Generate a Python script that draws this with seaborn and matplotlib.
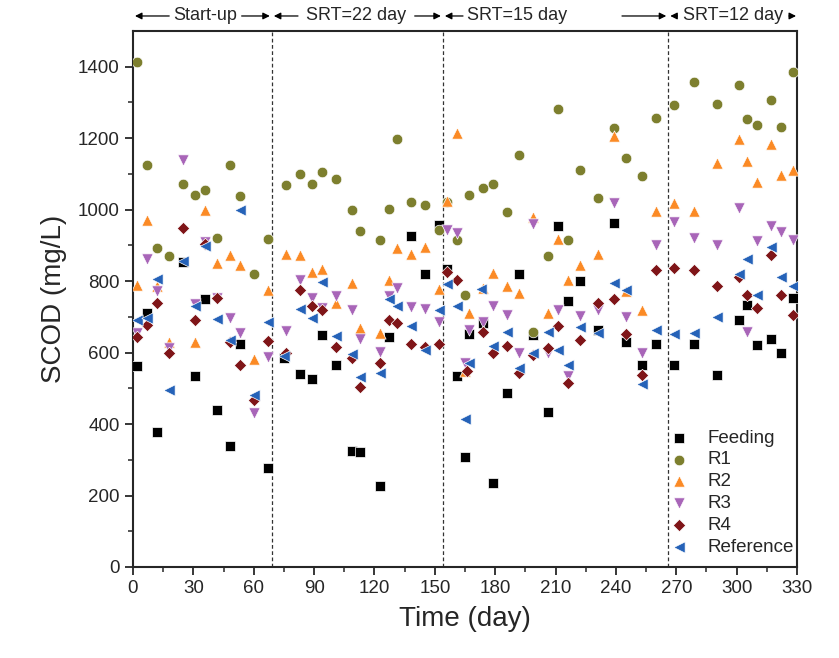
import numpy as np
import pandas as pd
import matplotlib
matplotlib.use('Agg')
import matplotlib.pyplot as plt
import seaborn as sns

# values (day, SCOD mg/L)
feed_day = [2, 7, 12, 25, 31, 36, 42, 48, 53, 67, 75, 83, 89, 94, 101, 109, 113, 123, 127, 138,
            145, 152, 156, 161, 165, 167, 174, 179, 186, 192, 199, 206, 211, 216, 222, 231, 239, 245, 253, 260,
            269, 279, 290, 301, 305, 310, 317, 322, 328]
feed_val = [563, 711, 377, 853, 535, 751, 440, 339, 623, 277, 585, 539, 526, 649, 566, 326, 321, 228, 643, 926,
            820, 958, 834, 535, 309, 652, 682, 236, 487, 820, 648, 433, 955, 745, 799, 663, 964, 631, 566, 623,
            565, 623, 536, 692, 732, 621, 638, 600, 754]

r1_day = [2, 7, 12, 18, 25, 31, 36, 42, 48, 53, 60, 67, 76, 83, 89, 94, 101, 109, 113, 123,
          127, 131, 138, 145, 152, 156, 161, 165, 167, 174, 179, 186, 192, 199, 206, 211, 216, 222, 231, 239,
          245, 253, 260, 269, 279, 290, 301, 305, 310, 317, 322, 328]
r1_val = [1414, 1126, 892, 870, 1072, 1042, 1055, 921, 1125, 1038, 821, 918, 1068, 1101, 1072, 1104, 1086, 998, 940, 916,
          1002, 1197, 1021, 1014, 944, 1021, 914, 761, 1042, 1060, 1071, 994, 1154, 658, 871, 1282, 916, 1111, 1034, 1228,
          1145, 1094, 1257, 1294, 1357, 1297, 1348, 1254, 1236, 1308, 1232, 1384]

r2_day = [2, 7, 12, 18, 31, 36, 42, 48, 53, 60, 67, 76, 83, 89, 94, 101, 109, 113, 123, 127,
          131, 138, 145, 152, 156, 161, 165, 167, 174, 179, 186, 192, 199, 206, 211, 216, 222, 231, 239, 245,
          253, 260, 269, 279, 290, 301, 305, 310, 317, 322, 328]
r2_val = [790, 970, 785, 630, 630, 1000, 850, 874, 846, 581, 776, 876, 873, 825, 835, 738, 796, 670, 654, 804,
          894, 876, 896, 777, 1024, 1214, 548, 710, 780, 822, 787, 768, 979, 710, 918, 802, 844, 876, 1207, 771,
          720, 995, 1018, 995, 1130, 1199, 1135, 1078, 1183, 1097, 1112]

r3_day = [2, 7, 12, 18, 25, 31, 36, 42, 48, 53, 60, 67, 76, 83, 89, 94, 101, 109, 113, 123,
          127, 131, 138, 145, 152, 156, 161, 165, 167, 174, 179, 186, 192, 199, 206, 211, 216, 222, 231, 239,
          245, 253, 260, 269, 279, 290, 301, 305, 310, 317, 322, 328]
r3_val = [654, 863, 771, 612, 1140, 735, 910, 752, 698, 654, 430, 589, 660, 802, 752, 724, 759, 718, 637, 603,
          757, 780, 727, 721, 687, 944, 934, 570, 664, 687, 731, 706, 598, 960, 598, 720, 535, 703, 720, 1018,
          699, 598, 902, 966, 922, 900, 1004, 659, 913, 955, 938, 916]

r4_day = [2, 7, 12, 18, 25, 31, 36, 42, 48, 53, 60, 67, 76, 83, 89, 94, 101, 109, 113, 123,
          127, 131, 138, 145, 152, 156, 161, 166, 174, 179, 186, 192, 199, 206, 211, 216, 222, 231, 239, 245,
          253, 260, 269, 279, 290, 301, 305, 310, 317, 322, 328]
r4_val = [645, 676, 738, 598, 949, 690, 903, 752, 629, 565, 468, 633, 598, 774, 731, 718, 615, 586, 505, 572,
          692, 682, 624, 615, 624, 826, 802, 548, 659, 598, 619, 542, 594, 612, 675, 516, 636, 740, 750, 652,
          538, 832, 837, 830, 785, 811, 762, 724, 874, 760, 706]

ref_day = [2, 7, 12, 18, 25, 31, 36, 42, 48, 53, 60, 67, 75, 83, 89, 94, 101, 109, 113, 123,
           127, 131, 138, 145, 152, 156, 161, 165, 167, 173, 179, 186, 192, 199, 206, 211, 216, 222, 231, 239,
           245, 253, 260, 269, 279, 290, 301, 305, 310, 317, 322, 328]
ref_val = [690, 696, 805, 496, 857, 731, 897, 694, 636, 1000, 482, 687, 590, 722, 698, 797, 647, 596, 531, 544,
           750, 731, 675, 608, 720, 792, 731, 413, 570, 777, 619, 659, 556, 598, 658, 608, 566, 673, 654, 796,
           776, 512, 662, 652, 654, 701, 820, 863, 760, 895, 812, 787]

# operating phases
phase_names = ['Start-up', 'SRT=22 day', 'SRT=15 day', 'SRT=12 day']
phase_edges = [0, 69, 154, 266, 330]

sns.set_style('ticks')
plt.rcParams['font.family'] = ['Liberation Sans', 'DejaVu Sans']

fig = plt.figure(figsize=(8.39, 6.58), dpi=100)
ax = fig.add_axes([0.1585, 0.1383, 0.7915, 0.8146])

series = [
    ('Feeding', feed_day, feed_val, 's', '#000000', 45),
    ('R1', r1_day, r1_val, 'o', '#7d7f2e', 58),
    ('R2', r2_day, r2_val, '^', '#fb8a25', 66),
    ('R3', r3_day, r3_val, 'v', '#a865b8', 66),
    ('R4', r4_day, r4_val, 'D', '#7f1518', 40),
    ('Reference', ref_day, ref_val, '<', '#2562b8', 66),
]
for name, d, v, m, c, s in series:
    sns.scatterplot(x=d, y=v, marker=m, color=c, s=s, edgecolor='white', linewidth=0.5,
                    label=name, ax=ax, zorder=3)

for e in phase_edges[1:-1]:
    ax.axvline(e, color='#333333', ls=(0, (3, 2)), lw=0.9, zorder=1)

ax.set_xlim(0, 330)
ax.set_ylim(0, 1500)
ax.set_xticks(np.arange(0, 331, 30))
ax.set_xticks(np.arange(15, 330, 30), minor=True)
ax.set_yticks(np.arange(0, 1401, 200))
ax.set_yticks(np.arange(100, 1500, 200), minor=True)
ax.tick_params(which='major', direction='out', length=6, width=1.3, labelsize=13.5)
ax.tick_params(which='minor', direction='out', length=3.5, width=1.1)
for sp in ax.spines.values():
    sp.set_linewidth(1.5)
    sp.set_visible(True)

ax.set_xlabel('Time (day)', fontsize=20, labelpad=6)
ax.set_ylabel('SCOD (mg/L)', fontsize=20, labelpad=8)

# phase labels with arrows above the plot
text_x = [36, 111, 191, 298]
arrow_l = [(18, 1), (82, 70), (164, 155), (270.5, 267)]
arrow_r = [(54, 68), (140, 153), (243, 265), (326, 329.5)]
yy = 1.028
for name, tx, al, ar in zip(phase_names, text_x, arrow_l, arrow_r):
    ax.text(tx, yy, name, transform=ax.get_xaxis_transform(), ha='center', va='center', fontsize=13)
    for a in (al, ar):
        ax.annotate('', xy=(a[1], yy), xytext=(a[0], yy),
                    xycoords=ax.get_xaxis_transform(), textcoords=ax.get_xaxis_transform(),
                    arrowprops=dict(arrowstyle='-|>', color='black', lw=0.9, mutation_scale=10,
                                    shrinkA=0, shrinkB=0),
                    annotation_clip=False)

ax.legend(loc='lower right', bbox_to_anchor=(1.012, 0.0), frameon=False, fontsize=13.5,
          handletextpad=0.5, labelspacing=0.25, borderaxespad=0.2, markerscale=1.0)

plt.savefig('out.png', dpi=100)
